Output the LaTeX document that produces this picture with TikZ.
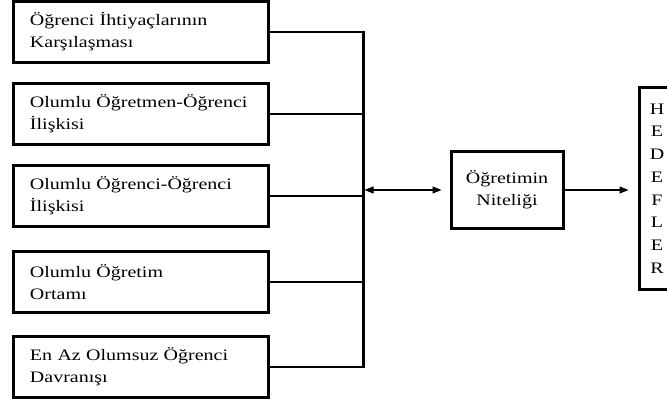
\documentclass[tikz,border=0pt]{standalone}
\usepackage{fontspec}
\setmainfont{Liberation Serif}[FakeStretch=1.25]
\usetikzlibrary{arrows.meta, positioning}

\begin{document}
\begin{tikzpicture}[x=1pt, y=-1pt, >={Triangle[length=9pt, width=7pt]}, node distance=18pt,
    factor/.style={draw, line width=3pt, minimum width=255pt, minimum height=61pt,
      text width=221pt, inner xsep=17pt, align=left, font=\fontsize{16}{22}\selectfont},
    quality/.style={draw, line width=3pt, minimum width=112pt, minimum height=76pt,
      align=center, font=\fontsize{16}{22}\selectfont},
    goals/.style={draw, line width=3pt, minimum width=36pt, minimum height=201pt,
      inner sep=0pt, align=center, font=\fontsize{16}{22.7}\selectfont},
    busline/.style={line width=2.5pt},
    link/.style={line width=1.2pt}]

  \useasboundingbox[fill=white] (0,0) rectangle (667,401);

  % influencing factors
  \node[factor] (b1) at (140.5,32) {Öğrenci İhtiyaçlarının\\Karşılaşması};
  \node[factor, below=of b1] (b2) {Olumlu Öğretmen-Öğrenci\\İlişkisi};
  \node[factor, below=of b2] (b3) {Olumlu Öğrenci-Öğrenci\\İlişkisi};
  \node[factor, below=22pt of b3] (b4) {Olumlu Öğretim\\Ortamı};
  \node[factor, below=21pt of b4] (b5) {En Az Olumsuz Öğrenci\\Davranışı};

  % collecting bus
  \coordinate (bus) at (363,0);
  \foreach \b in {b1,b2,b3,b4,b5}
    \draw[busline] (\b.east) -- (\b.east -| bus);
  \draw[line width=3pt] ([yshift=1.25pt]b1.east -| bus) -- ([yshift=-1.25pt]b5.east -| bus);

  % quality of teaching and goals
  \node[quality] (nitelik) at (507,190) {Öğretimin\\Niteliği};
  \node[goals] (hedef) at (657,188.5) {H\\E\\D\\E\\F\\L\\E\\R};

  \draw[link, <->, shorten <=1.5pt, shorten >=8pt] (nitelik.west -| bus) -- (nitelik.west);
  \draw[link, ->, shorten >=9pt] (nitelik.east) -- (nitelik.east -| hedef.west);
\end{tikzpicture}
\end{document}
